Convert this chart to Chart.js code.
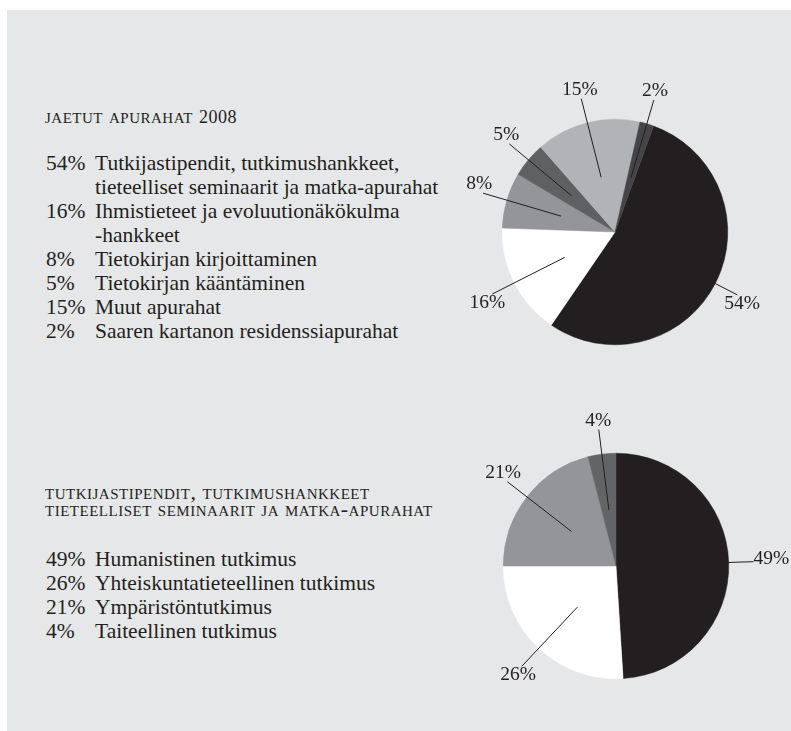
<!DOCTYPE html>
<html lang="fi">
<head>
  <meta charset="UTF-8" />
  <title>Jaetut apurahat 2008</title>
  <script src="https://cdn.jsdelivr.net/npm/chart.js"></script>
  <style>
    html, body { margin: 0; padding: 0; background: #fff; }
    body { width: 791px; height: 731px; position: relative; overflow: hidden; font-family: 'Liberation Serif', serif; color: #231f20; }
    .panel { position: absolute; left: 7px; top: 10px; right: 0; bottom: 0; background: #e6e7e8; }
    .title { position: absolute; left: 45px; font-size: 22px; line-height: 17px; font-variant: small-caps; letter-spacing: 0.5px; white-space: pre-line; }
    .title .num { font-size: 0.82em; }
    .list { position: absolute; left: 46px; font-size: 21.5px; line-height: 24px; }
    .row { display: flex; }
    .row .pct { width: 49px; flex: none; }
    .row .txt { white-space: pre-line; }
    canvas { position: absolute; }
  </style>
</head>
<body>
  <div class="panel"></div>

  <div class="title" id="title1" style="top: 107px;"></div>
  <div class="list" id="list1" style="top: 151px;"></div>

  <div class="title" id="title2" style="top: 483px;"></div>
  <div class="list" id="list2" style="top: 547px;"></div>

  <canvas id="pie1" width="350" height="350" style="left: 440px; top: 57px;"></canvas>
  <canvas id="pie2" width="350" height="350" style="left: 441px; top: 391px;"></canvas>

  <script>
    // jaetut apurahat 2008
    const title1 = "jaetut apurahat 2008";
    const categories1 = [
      "Tutkijastipendit, tutkimushankkeet,\ntieteelliset seminaarit ja matka-apurahat",
      "Ihmistieteet ja evoluutionäkökulma\n-hankkeet",
      "Tietokirjan kirjoittaminen",
      "Tietokirjan kääntäminen",
      "Muut apurahat",
      "Saaren kartanon residenssiapurahat"
    ];
    const values1 = [54, 16, 8, 5, 15, 2];
    const colors1 = ["#231f20", "#ffffff", "#939598", "#5f6062", "#b1b3b6", "#454547"];

    // tutkijastipendit jne.
    const title2 = "tutkijastipendit, tutkimushankkeet\ntieteelliset seminaarit ja matka-apurahat";
    const categories2 = [
      "Humanistinen tutkimus",
      "Yhteiskuntatieteellinen tutkimus",
      "Ympäristöntutkimus",
      "Taiteellinen tutkimus"
    ];
    const values2 = [49, 26, 21, 4];
    const colors2 = ["#231f20", "#ffffff", "#939598", "#636466"];

    function fillList(el, cats, vals) {
      el.innerHTML = cats.map((c, i) =>
        `<div class="row"><span class="pct">${vals[i]}%</span><span class="txt">${c}</span></div>`
      ).join("");
    }

    function setTitle(el, text) {
      el.innerHTML = text.replace(/\d+/g, m => `<span class="num">${m}</span>`);
    }

    setTitle(document.getElementById("title1"), title1);
    setTitle(document.getElementById("title2"), title2);
    fillList(document.getElementById("list1"), categories1, values1);
    fillList(document.getElementById("list2"), categories2, values2);

    // viivat ja prosenttiluvut kiekon ulkopuolelle
    const leaderLines = {
      id: "leaderLines",
      afterDatasetsDraw(chart) {
        const ctx = chart.ctx;
        const meta = chart.getDatasetMeta(0);
        const vals = chart.data.datasets[0].data;
        ctx.save();
        ctx.strokeStyle = "#231f20";
        ctx.fillStyle = "#231f20";
        ctx.lineWidth = 1;
        ctx.font = "19.5px 'Liberation Serif'";
        meta.data.forEach((arc, i) => {
          const { x, y, startAngle, endAngle, outerRadius } =
            arc.getProps(["x", "y", "startAngle", "endAngle", "outerRadius"], true);
          const mid = (startAngle + endAngle) / 2;
          const ux = Math.cos(mid), uy = Math.sin(mid);
          const x0 = x + ux * outerRadius * 0.5, y0 = y + uy * outerRadius * 0.5;
          const x1 = x + ux * outerRadius * 1.22, y1 = y + uy * outerRadius * 1.22;
          ctx.beginPath();
          ctx.moveTo(x0, y0);
          ctx.lineTo(x1, y1);
          ctx.stroke();

          const text = vals[i] + "%";
          const w = ctx.measureText(text).width;
          ctx.textBaseline = "middle";
          if (Math.abs(uy) < 0.2) {
            ctx.textAlign = ux > 0 ? "left" : "right";
            ctx.fillText(text, x1, y1 - 3);
          } else {
            ctx.textAlign = "center";
            ctx.fillText(text, x1 + ux * w * 0.15, y1 + Math.sign(uy) * 9);
          }
        });
        ctx.restore();
      }
    };

    function makePie(id, vals, colors, rotation) {
      return new Chart(document.getElementById(id), {
        type: "pie",
        data: {
          labels: vals.map(v => v + "%"),
          datasets: [{ data: vals, backgroundColor: colors, borderColor: colors, borderWidth: 0.5 }]
        },
        options: {
          responsive: false,
          animation: false,
          rotation: rotation,
          layout: { padding: 62 },
          plugins: { legend: { display: false }, tooltip: { enabled: false } }
        },
        plugins: [leaderLines]
      });
    }

    makePie("pie1", values1, colors1, 20);
    makePie("pie2", values2, colors2, 0);
  </script>
</body>
</html>
